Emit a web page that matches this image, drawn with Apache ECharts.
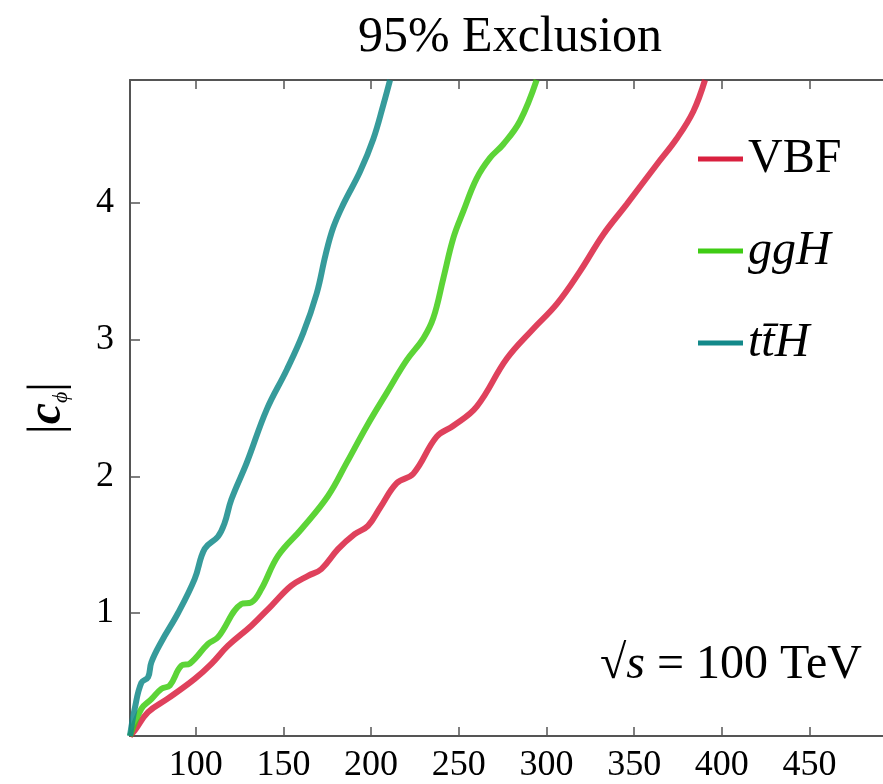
<!DOCTYPE html>
<html>
<head>
<meta charset="utf-8">
<script src="https://cdn.jsdelivr.net/npm/echarts@6/dist/echarts.min.js"></script>
<style>
  html, body { margin: 0; padding: 0; background: #fff; }
  #chart { width: 883px; height: 784px; }
</style>
</head>
<body>
<div id="chart"></div>
<script>
// 质量 (x) 和 |c_phi| 排除限 (y)
var vbfMass = [62.5, 65.2, 72.8, 84.2, 99.4, 108.9, 118.4, 131.7, 143.1, 154.5, 164, 171.6, 181.1, 190.6, 198.2, 205.1, 214.6, 224.1, 237.4, 246.9, 260.2, 277.3, 292.5, 305.8, 319.1, 332.4, 345.7, 362.8, 374.2, 383.7, 390.4];
var vbfLimit = [0.1, 0.14, 0.275, 0.375, 0.518, 0.628, 0.761, 0.907, 1.053, 1.2, 1.272, 1.321, 1.467, 1.577, 1.637, 1.77, 1.95, 2.02, 2.29, 2.37, 2.51, 2.86, 3.08, 3.26, 3.5, 3.77, 3.99, 4.28, 4.47, 4.67, 4.9];

var gghMass = [62.5, 69, 74.7, 80.4, 85.2, 91.8, 96.6, 107, 112.7, 126, 131.7, 137.4, 146.9, 160.2, 175.4, 186.1, 197.5, 208.9, 220.3, 229.8, 235.5, 241.2, 246.9, 252.6, 260.2, 267.8, 275.4, 284.9, 294.4];
var gghLimit = [0.1, 0.3, 0.37, 0.445, 0.47, 0.615, 0.63, 0.774, 0.823, 1.066, 1.078, 1.175, 1.418, 1.613, 1.856, 2.1, 2.367, 2.611, 2.85, 3.01, 3.16, 3.45, 3.745, 3.94, 4.18, 4.33, 4.43, 4.6, 4.9];

var tthMass = [62.5, 65.2, 69, 72.8, 74.7, 80.4, 89.9, 99.4, 105.1, 112.7, 116.5, 120.3, 129.1, 140.5, 151.9, 161.3, 169, 174, 178.4, 184.1, 193.7, 201.3, 207, 210.8];
var tthLimit = [0.1, 0.3, 0.49, 0.53, 0.64, 0.79, 1.0, 1.25, 1.47, 1.56, 1.66, 1.83, 2.1, 2.49, 2.78, 3.05, 3.34, 3.62, 3.82, 3.99, 4.23, 4.47, 4.72, 4.9];

var xTicks = [100, 150, 200, 250, 300, 350, 400, 450];
var yTicks = [1, 2, 3, 4];

var seriesNames = ["VBF", "ggH", "ttH"];
var seriesColors = ["#d9203f", "#3fcc14", "#13898a"];

(function () {
  var font = "Liberation Serif";
  var myChart = echarts.init(document.getElementById("chart"));

  function zip(xs, ys) {
    return xs.map(function (x, i) {
      return [x, ys[i]];
    });
  }

  var axisLineStyle = { color: "#555", width: 2 };
  var tickStyle = { color: "#555", width: 1.5 };

  // 右侧边框在截图之外，x 轴只画到 ~492
  var xMin = 62.5;
  var xMax = 491.9;

  var option = {
    backgroundColor: "#fff",
    animation: false,
    grid: {
      left: 130,
      top: 80,
      right: 0,
      bottom: 48,
    },
    legend: {
      orient: "vertical",
      left: 693,
      top: 130,
      itemWidth: 45,
      itemHeight: 5,
      itemGap: 44,
      icon: "rect",
      data: seriesNames,
      textStyle: {
        fontFamily: font,
        fontSize: 48,
        lineHeight: 48,
        color: "#000",
        rich: {
          i: { fontFamily: font, fontSize: 48, fontStyle: "italic", color: "#000" },
        },
      },
      formatter: function (name) {
        if (name === "ggH") return "{i|ggH}";
        if (name === "ttH") return "{i|tt\u0304H}";
        return name;
      },
    },
    xAxis: [
      {
        type: "value",
        position: "bottom",
        min: xMin,
        max: xMax,
        axisLine: { show: true, lineStyle: axisLineStyle },
        axisTick: { show: true, inside: true, length: 9, lineStyle: tickStyle, customValues: xTicks },
        axisLabel: {
          customValues: xTicks,
          fontFamily: font,
          fontSize: 36,
          color: "#000",
          margin: 12,
        },
        splitLine: { show: false },
      },
      {
        type: "value",
        position: "top",
        min: xMin,
        max: xMax,
        axisLine: { show: true, lineStyle: axisLineStyle },
        axisTick: { show: true, inside: true, length: 9, lineStyle: tickStyle, customValues: xTicks },
        axisLabel: { show: false },
        splitLine: { show: false },
      },
    ],
    yAxis: [
      {
        type: "value",
        position: "left",
        min: 0.1,
        max: 4.9,
        axisLine: { show: true, lineStyle: axisLineStyle },
        axisTick: { show: true, inside: true, length: 10, lineStyle: tickStyle, customValues: yTicks },
        axisLabel: {
          customValues: yTicks,
          fontFamily: font,
          fontSize: 36,
          color: "#000",
          margin: 16,
        },
        splitLine: { show: false },
        name: "|{c|c}{s|\u03d5}|",
        nameLocation: "middle",
        nameGap: 58,
        nameRotate: 90,
        nameTextStyle: {
          fontFamily: font,
          fontSize: 48,
          color: "#000",
          rich: {
            c: { fontFamily: font, fontSize: 48, fontStyle: "italic", fontWeight: "bold", color: "#000" },
            s: { fontFamily: font, fontSize: 22, fontStyle: "italic", color: "#000", verticalAlign: "bottom", padding: [14, 0, 0, 0] },
          },
        },
      },
    ],
    graphic: [
      {
        type: "text",
        x: 510,
        y: 38,
        style: {
          text: "95% Exclusion",
          fontFamily: font,
          fontSize: 50,
          fill: "#000",
          align: "center",
          verticalAlign: "middle",
        },
      },
      {
        type: "text",
        x: 862,
        y: 665,
        style: {
          text: "\u221a{i|s} = 100 TeV",
          fontFamily: font,
          fontSize: 48,
          fill: "#000",
          align: "right",
          verticalAlign: "middle",
          rich: {
            i: { fontFamily: font, fontSize: 48, fontStyle: "italic", fill: "#000" },
          },
        },
      },
    ],
    series: [
      { name: "VBF", data: zip(vbfMass, vbfLimit), color: seriesColors[0] },
      { name: "ggH", data: zip(gghMass, gghLimit), color: seriesColors[1] },
      { name: "ttH", data: zip(tthMass, tthLimit), color: seriesColors[2] },
    ].map(function (s) {
      return {
        name: s.name,
        type: "line",
        xAxisIndex: 0,
        yAxisIndex: 0,
        data: s.data,
        symbol: "none",
        smooth: 0.4,
        clip: true,
        itemStyle: { color: s.color },
        lineStyle: { color: s.color, width: 6, opacity: 0.85 },
      };
    }),
  };

  myChart.setOption(option);
  window.addEventListener("resize", function () {
    myChart.resize();
  });
})();
</script>
</body>
</html>
